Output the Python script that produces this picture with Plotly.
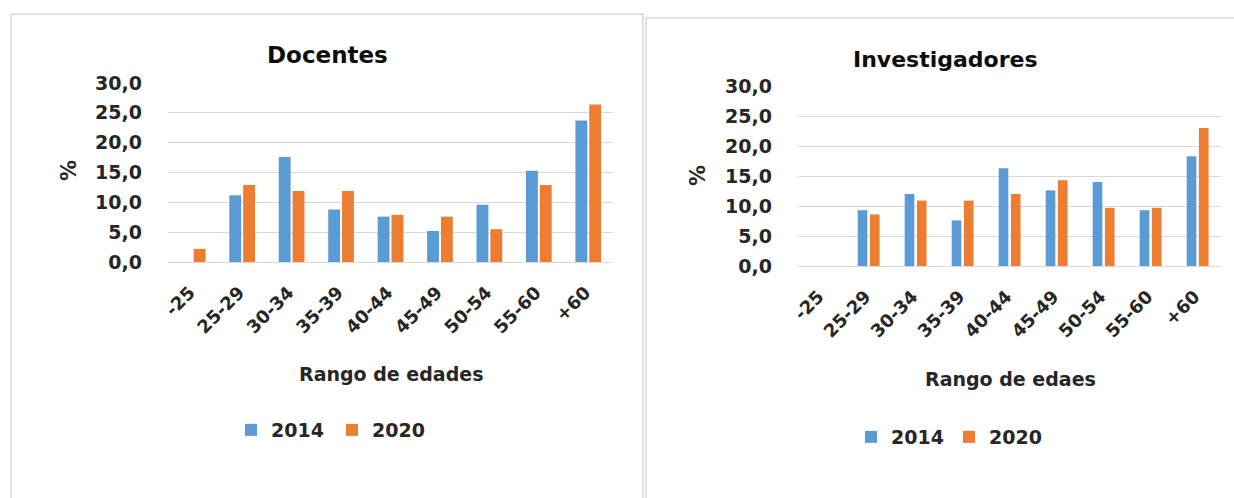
import plotly.graph_objects as go

categories = ["-25", "25-29", "30-34", "35-39", "40-44", "45-49", "50-54", "55-60", "+60"]
docentes_2014 = [0.0, 11.2, 17.6, 8.8, 7.6, 5.2, 9.6, 15.3, 23.7]
docentes_2020 = [2.2, 12.9, 11.9, 11.9, 7.9, 7.6, 5.5, 12.9, 26.4]
invest_2014 = [0.0, 9.3, 12.0, 7.6, 16.3, 12.6, 14.0, 9.3, 18.3]
invest_2020 = [0.0, 8.6, 10.9, 10.9, 12.0, 14.3, 9.7, 9.7, 23.0]
series_names = ["2014", "2020"]
colors = ["#5B9BD5", "#ED7D31"]

W, H = 1234, 498
FONT = "DejaVu Sans"
TXT = "#262626"

def px(x):
    return x / W

def py(y):
    return 1 - y / H

fig = go.Figure()
left_geom = [(-0.26, 0.24), (0.02, 0.24)]
right_geom = [(-0.23, 0.205), (0.03, 0.205)]
for vals, name, col, (off, wd) in zip([docentes_2014, docentes_2020], series_names, colors, left_geom):
    fig.add_trace(go.Bar(x=categories, y=vals, name=name, marker_color=col, marker_line_width=0,
                         offset=off, width=wd, xaxis="x", yaxis="y", legend="legend"))
for vals, name, col, (off, wd) in zip([invest_2014, invest_2020], series_names, colors, right_geom):
    fig.add_trace(go.Bar(x=categories, y=vals, name=name, marker_color=col, marker_line_width=0,
                         offset=off, width=wd, xaxis="x2", yaxis="y2", legend="legend2"))

tickfont = dict(family=FONT, size=19, color=TXT, weight="bold")
xtickfont = dict(family=FONT, size=18, color=TXT, weight="bold")

common_y = dict(range=[0, 30], dtick=5, tickformat=".1f", showgrid=True, gridcolor="#d9d9d9",
                gridwidth=1, zeroline=False, showline=False, ticks="", tickfont=tickfont,
                ticklabelstandoff=25, fixedrange=True, automargin=False)
common_x = dict(tickangle=-45, showgrid=False, showline=True, linecolor="#d9d9d9",
                ticks="", tickfont=xtickfont, type="category", ticklabelstandoff=12,
                ticklabelshift=-3, automargin=False)

legfont = dict(family=FONT, size=19, color=TXT, weight="bold")
fig.update_layout(
    width=W, height=H,
    margin=dict(l=0, r=0, t=0, b=0, pad=0, autoexpand=False),
    paper_bgcolor="white", plot_bgcolor="white",
    separators=",.",
    barmode="overlay",
    xaxis=dict(domain=[px(168), px(613)], anchor="y", **common_x),
    yaxis=dict(domain=[py(262), py(83)], anchor="x", **common_y),
    xaxis2=dict(domain=[px(798), px(1221)], anchor="y2", **common_x),
    yaxis2=dict(domain=[py(266), py(86)], anchor="x2", **common_y),
    legend=dict(orientation="h", x=px(231), y=py(430), xanchor="left", yanchor="middle",
                font=legfont, entrywidth=56, entrywidthmode="pixels", bgcolor="rgba(0,0,0,0)"),
    legend2=dict(orientation="h", x=px(851), y=py(437), xanchor="left", yanchor="middle",
                 font=legfont, entrywidth=53, entrywidthmode="pixels", bgcolor="rgba(0,0,0,0)"),
    showlegend=True,
)

# panel borders
fig.add_shape(type="rect", xref="paper", yref="paper", x0=px(11), x1=px(643), y0=py(510), y1=py(14),
              line=dict(color="#d9d9d9", width=1.5), fillcolor="rgba(0,0,0,0)", layer="below")
fig.add_shape(type="rect", xref="paper", yref="paper", x0=px(646), x1=px(1250), y0=py(510), y1=py(18),
              line=dict(color="#d9d9d9", width=1.5), fillcolor="rgba(0,0,0,0)", layer="below")

ann_font_axis = dict(family=FONT, size=19, color=TXT, weight="bold")
pct_font = dict(family=FONT, size=21, color=TXT, weight="bold")
annots = [
    dict(text="Docentes", x=px(327), y=py(55), font=dict(family=FONT, size=23, color="#0d0d0d", weight="bold")),
    dict(text="Investigadores", x=px(945), y=py(59), font=dict(family=FONT, size=22, color="#0d0d0d", weight="bold")),
    dict(text="%", x=px(69), y=py(171), font=pct_font, textangle=-90),
    dict(text="%", x=px(698), y=py(176), font=pct_font, textangle=-90),
    dict(text="Rango de edades", x=px(391), y=py(374), font=ann_font_axis),
    dict(text="Rango de edaes", x=px(1010), y=py(379), font=ann_font_axis),
]
for a in annots:
    fig.add_annotation(xref="paper", yref="paper", showarrow=False, xanchor="center", yanchor="middle", **a)

fig.write_html("out.html")
